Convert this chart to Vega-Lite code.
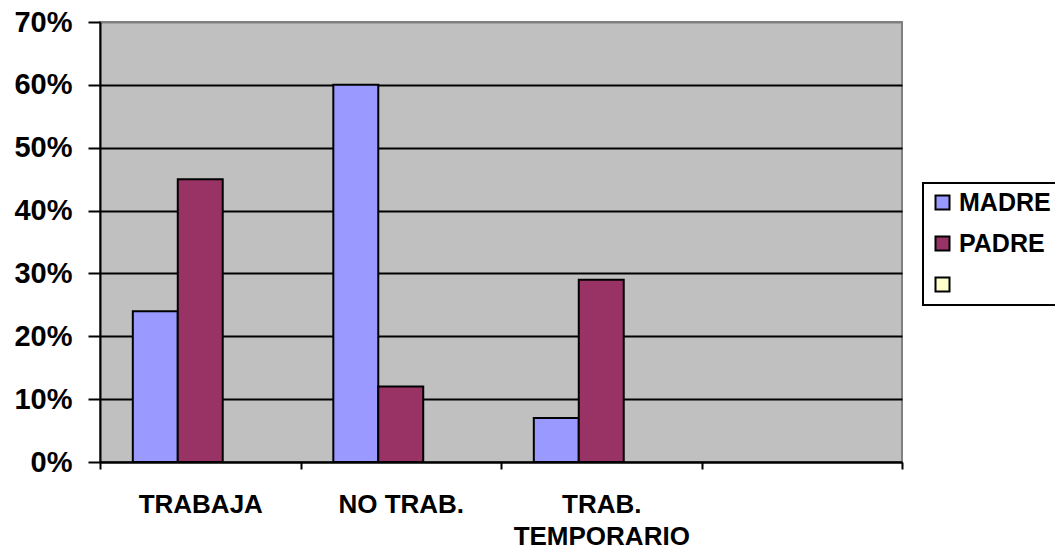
{
  "$schema": "https://vega.github.io/schema/vega-lite/v6.json",
  "width": 802,
  "height": 440,
  "autosize": {"type": "none"},
  "padding": {"left": 100, "top": 22, "right": 153, "bottom": 88},
  "background": "white",
  "data": {
    "values": [
      {"cat": "TRABAJA", "serie": "MADRE", "value": 0.24},
      {"cat": "TRABAJA", "serie": "PADRE", "value": 0.45},
      {"cat": "NO TRAB.", "serie": "MADRE", "value": 0.60},
      {"cat": "NO TRAB.", "serie": "PADRE", "value": 0.12},
      {"cat": "TRAB.|TEMPORARIO", "serie": "MADRE", "value": 0.07},
      {"cat": "TRAB.|TEMPORARIO", "serie": "PADRE", "value": 0.29}
    ]
  },
  "mark": {"type": "bar", "stroke": "black", "strokeWidth": 2},
  "encoding": {
    "x": {
      "field": "cat",
      "type": "nominal",
      "sort": null,
      "scale": {"domain": ["TRABAJA", "NO TRAB.", "TRAB.|TEMPORARIO", " "], "paddingInner": 0, "paddingOuter": 0},
      "axis": {
        "title": null,
        "labelAngle": 0,
        "labelExpr": "split(datum.label, '|')",
        "labelFont": "Liberation Sans",
        "labelFontWeight": "bold",
        "labelFontSize": 26,
        "labelLineHeight": 32,
        "labelColor": "black",
        "labelPadding": 22,
        "labelBaseline": "top",
        "tickBand": "extent",
        "tickSize": 7,
        "tickColor": "black",
        "tickWidth": 2,
        "domainColor": "black",
        "domainWidth": 2,
        "grid": false
      }
    },
    "xOffset": {
      "field": "serie",
      "type": "nominal",
      "scale": {"domain": ["MADRE", "PADRE", " "], "paddingInner": 0, "paddingOuter": 0.73}
    },
    "y": {
      "field": "value",
      "type": "quantitative",
      "scale": {"domain": [0, 0.7], "nice": false},
      "axis": {
        "title": null,
        "format": ".0%",
        "values": [0, 0.1, 0.2, 0.3, 0.4, 0.5, 0.6, 0.7],
        "labelFont": "Liberation Sans",
        "labelFontWeight": "bold",
        "labelFontSize": 29,
        "labelColor": "black",
        "labelPadding": 16,
        "tickSize": 12,
        "tickColor": "black",
        "tickWidth": 2,
        "domainColor": "black",
        "domainWidth": 2,
        "grid": true,
        "gridColor": {"condition": {"test": "datum.value >= 0.7", "value": "#808080"}, "value": "black"},
        "gridWidth": 2
      }
    },
    "color": {
      "field": "serie",
      "type": "nominal",
      "scale": {"domain": ["MADRE", "PADRE", " "], "range": ["#9999FF", "#993366", "#FFFFCC"]},
      "legend": {
        "title": null,
        "orient": "none",
        "legendX": 823,
        "legendY": 161,
        "strokeColor": "black",
        "fillColor": "white",
        "padding": 7,
        "symbolType": "square",
        "symbolSize": 196,
        "symbolStrokeColor": "black",
        "symbolStrokeWidth": 2,
        "symbolOpacity": 1,
        "labelFont": "Liberation Sans",
        "labelFontWeight": "bold",
        "labelFontSize": 25,
        "labelColor": "black",
        "labelOffset": 4,
        "rowPadding": 15
      }
    }
  },
  "config": {
    "view": {"fill": "#C0C0C0", "stroke": "#808080", "strokeWidth": 2},
    "legend": {"strokeWidth": 2}
  }
}
